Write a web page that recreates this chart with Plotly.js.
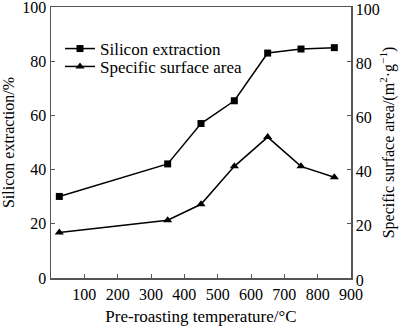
<!DOCTYPE html>
<html><head><meta charset="utf-8">
<script src="https://cdn.plot.ly/plotly-3.0.1.min.js"></script>
<style>body{margin:0;padding:0;background:#fff}#c{width:400px;height:326px}</style>
</head><body><div id="c"></div>
<script>
const temperature = [25, 350, 450, 550, 650, 750, 850];
const siliconExtraction = [30.1, 42.1, 57, 65.4, 83, 84.5, 85];
const surfaceArea = [16.8, 21.3, 27.2, 41.2, 52, 41.2, 37.2];
const xTicks = [100, 200, 300, 400, 500, 600, 700, 800, 900];
const yTicks = [0, 20, 40, 60, 80, 100];
const seriesNames = ['Silicon extraction', 'Specific surface area'];

const font = {family: 'Liberation Serif', size: 16, color: '#000'};
const legFont = {family: 'Liberation Serif', size: 17, color: '#000'};
const axisCommon = {
  showline: true, linecolor: '#555', linewidth: 1.5, ticks: 'inside', ticklen: 4,
  tickcolor: '#555', showgrid: false, zeroline: false, tickfont: font, ticklabeloverflow: 'allow'
};
const traces = [
  {x: temperature, y: siliconExtraction, name: seriesNames[0], mode: 'lines+markers', legend: 'legend',
   line: {color: '#000', width: 1.5}, marker: {symbol: 'square', size: 7, color: '#000'}},
  {x: temperature, y: surfaceArea, name: seriesNames[1], mode: 'lines+markers', yaxis: 'y2', legend: 'legend2',
   line: {color: '#000', width: 1.5}, marker: {symbol: 'triangle-up', size: 8, color: '#000'}}
];
const legCommon = {x: 0.03, xanchor: 'left', yanchor: 'middle', bgcolor: 'rgba(0,0,0,0)',
  font: legFont, itemwidth: 30};
const layout = {
  width: 400, height: 326, margin: {l: 51, r: 49, t: 7, b: 48},
  paper_bgcolor: '#fff', plot_bgcolor: '#fff', font: font,
  xaxis: Object.assign({}, axisCommon, {range: [0, 900], tickvals: xTicks, mirror: true, ticklabelstandoff: 1,
    title: {text: 'Pre-roasting temperature/°C', font: {family: 'Liberation Serif', size: 17, color: '#000'}, standoff: 9}}),
  yaxis: Object.assign({}, axisCommon, {range: [0, 100], tickvals: yTicks,
    title: {text: 'Silicon extraction/%', font: font, standoff: 4}}),
  yaxis2: Object.assign({}, axisCommon, {range: [0, 100], tickvals: yTicks, overlaying: 'y', side: 'right',
    ticklabelshift: 2,
    title: {text: 'Specific surface area/(m<sup>2</sup>·g<sup>−1</sup>)', font: font, standoff: 4}}),
  showlegend: true,
  legend: Object.assign({}, legCommon, {y: 0.845}),
  legend2: Object.assign({}, legCommon, {y: 0.779})
};
Plotly.newPlot('c', traces, layout, {displayModeBar: false, staticPlot: true});
</script></body></html>
